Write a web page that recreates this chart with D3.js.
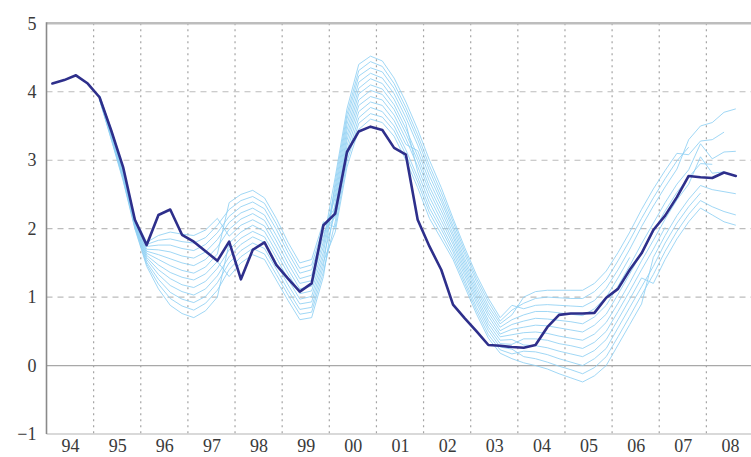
<!DOCTYPE html>
<html>
<head>
<meta charset="utf-8">
<script src="https://cdn.jsdelivr.net/npm/d3@7"></script>
<style>
  body { margin: 0; background: #fff; }
  svg { display: block; }
  svg text { font-family: "Liberation Serif", "DejaVu Serif", serif; }
</style>
</head>
<body>
<svg id="chart" width="751" height="457"></svg>
<script>
// Year labels along the bottom (one per calendar year, 1994-2008)
const yearLabels = ["94","95","96","97","98","99","00","01","02","03","04","05","06","07","08"];
const firstYear = 1994;
const yTicks = [-1, 0, 1, 2, 3, 4, 5];
const dashedLevels = [1, 2, 3, 4];

// Quarterly series, starting 1994 Q1
const policyRate = [
  4.12, 4.17, 4.24, 4.12,
  3.92, 3.43, 2.90, 2.13,
  1.76, 2.20, 2.28, 1.91,
  1.81, 1.67, 1.53, 1.81,
  1.26, 1.69, 1.80, 1.47,
  1.27, 1.08, 1.20, 2.05,
  2.22, 3.12, 3.42, 3.49,
  3.44, 3.18, 3.08, 2.13,
  1.74, 1.40, 0.89, 0.69,
  0.50, 0.30, 0.29, 0.27,
  0.26, 0.30, 0.56, 0.74,
  0.76, 0.76, 0.77, 0.99,
  1.12, 1.40, 1.64, 1.98,
  2.19, 2.46, 2.77, 2.75,
  2.74, 2.82, 2.77
];

// Vintage paths, each quarterly from 1995 Q1 up to its own last quarter
const vintageStartYear = 1995;
const vintage01 = [3.91,3.36,2.79,2.06,1.61,1.47,1.36,1.29,1.25,1.34,1.52,
  1.30,1.50,1.62,1.55,1.25,0.95,0.67,0.70,1.30,
  2.39,3.36,3.97,4.10,4.04,3.81,3.46,3.06,2.61,2.26,1.88,1.46,1.06,0.72,0.46,0.53,
  0.56,0.59,0.58,0.55,0.52,0.49,0.59,0.75,1.04,1.34,1.65,1.95,2.26,2.53,2.75,2.95,2.94];
const vintage02 = [3.93,3.42,2.86,2.12,1.74,1.76,1.76,1.71,1.68,1.77,1.94,2.18,2.32,2.39,2.29,1.99,1.65,1.35,1.40,1.95,
  2.17,3.13,3.71,3.85,3.80,3.58,3.23,
  3.14,2.69,2.33,1.93,1.51,1.11,0.77,0.51,0.60,
  0.65,0.69,0.68,0.66,0.64,0.61,0.71,0.88,1.16,1.46,1.78,2.08,2.38,2.65,2.86,3.24,3.02,3.12,3.13];
const vintage03 = [3.89,3.33,2.74,2.03,1.51,1.26,1.07,0.97,0.92,1.01,1.21,1.50,1.68,1.79,1.71,1.41,1.10,0.82,0.85,1.45,
  2.68,3.67,4.31,4.44,4.37,4.12,3.77,3.37,2.92,2.53,2.10,1.67,1.27,0.93,0.65,0.81,
  0.91,0.98,1.00,0.99,0.98,0.98,1.08,1.25,1.53,1.83,2.15,2.45,2.73,2.99,3.19];
const vintage04 = [3.95,3.45,2.90,2.15,1.80,1.90,1.95,1.92,1.90,1.98,2.15,
  1.89,2.05,2.13,2.04,1.74,1.41,1.12,1.16,1.74,
  2.60,3.60,4.23,4.35,4.29,4.05,3.70,3.30,2.85,2.46,2.04,1.62,1.22,0.87,0.61,0.74,
  1.00,1.08,1.10,1.10,1.10,1.10,1.20,1.38,1.65,1.95,2.28,2.58,2.85,3.10,3.08,3.28,3.30,3.41];
const vintage05 = [3.88,3.30,2.70,2.00,1.45,1.12,0.88,0.76,0.70,0.80,1.00,
  1.79,1.95,2.05,1.96,1.66,1.34,1.05,1.09,1.66,
  2.53,3.52,4.14,4.27,4.20,3.97,3.62,3.22,2.77,2.40,1.99,1.56,1.16,0.82,0.56,0.67,
  0.74,0.79,0.79,0.77,0.75,0.73,0.83,1.00,1.28,1.58];
const vintage06 = [3.92,3.39,2.83,2.09,1.67,1.62,1.56,1.50,1.46,1.55,1.73,1.99,2.14,2.22,2.12,1.82,1.49,1.20,1.24,1.81,
  2.75,3.75,4.40,4.52,4.45,4.20,3.85,3.45,3.00,2.60,2.15,1.72,1.32,0.98,0.70,0.88,
  0.83,0.88,0.89,0.88,0.87,0.86,0.95,1.13,1.40,1.70,2.03,2.33,2.61,2.87,3.30,3.50,3.55,3.70,3.75];
const vintage07 = [3.90,3.34,2.75,2.04,1.55,1.33,1.17,1.08,1.03,1.12,1.31,1.59,1.77,1.88,1.80,1.50,1.18,0.90,0.93,1.52,
  1.95,2.90,3.45,3.60,3.55,3.35,3.00,2.60,2.15,1.85,1.55,1.15,0.75,0.40,0.18,0.10,
  0.04,0.00,-0.05,-0.12,-0.18,-0.24,-0.15,0.00,0.30,0.60,0.90,1.58,1.90,2.19,2.43,2.63,2.57,2.54,2.51];
const vintage08 = [3.94,3.44,2.88,2.14,1.77,1.83,1.85,1.81,1.79,1.87,2.05,2.28,2.41,2.47,2.37,2.07,1.72,1.42,1.47,2.03,
  2.31,3.29,3.88,4.02,3.96,3.74,3.39,2.99,2.54,2.19,1.82,1.41,1.01,0.66,0.42,0.45,
  0.48,0.49,0.47,0.43,0.40,0.37,0.46,0.63,0.91,1.21,1.53,1.83,2.14,2.42,2.65,3.05,2.81,2.83];
const vintage09 = [3.91,3.38,2.81,2.08,1.64,1.55,1.46,1.39,1.35,1.44,1.63,
  2.38,2.50,2.56,2.45,2.15,1.80,1.50,1.55,2.10,
  2.02,2.98,3.54,3.68,3.63,3.43,3.08,2.68,2.23,1.92,1.60,1.20,0.80,0.45,0.23,0.17,
  0.21,0.20,0.16,0.10,0.05,0.00,0.10,0.25,0.55,0.85,1.15,1.45,1.79,2.08,2.32,2.52];
const vintage10 = [3.89,3.31,2.72,2.01,1.48,1.19,0.98,0.87,0.81,0.91,1.10,1.40,1.59,1.71,1.63,1.33,1.03,0.75,0.78,1.37,
  2.10,3.05,3.62,3.77,3.71,3.50,3.15,2.75,2.30,1.99,1.66,1.25,0.85,0.51,0.27,0.24,
  0.13,0.10,0.05,-0.01,-0.06,-0.12,-0.03,0.13,0.42,0.72,1.03,1.33,1.67,1.96,2.21,2.41,2.32,2.25,2.20];
const vintage11 = [3.93,3.40,2.85,2.10,1.70,1.69,1.66,1.60,1.57,1.66,1.84,2.09,2.23,2.30,2.20,1.90,1.57,1.27,1.32,1.88,
  2.46,3.44,4.05,4.19,4.12,3.89,3.54,
  2.83,2.38,2.05,1.71,1.31,0.91,0.56,0.32,0.31,
  0.39,0.39,0.37,0.32,0.29,0.25,0.34,0.50,0.79,1.09,1.40,1.70,2.02];
const vintage12 = [3.90,3.35,2.77,2.05,1.58,1.40,1.27,1.18,1.14,1.23,1.42,1.69,1.86,1.96,1.88,1.58,1.26,0.97,1.01,1.59,
  2.24,3.21,3.80,3.93,3.88,3.66,3.31,2.91,2.46,2.12,1.77,1.36,0.96,0.61,0.37,0.38,
  0.30,0.29,0.26,0.21,0.17,0.13,0.22,0.38,0.67,0.97,1.28,1.20,1.55,1.85,2.10,2.30,2.20,2.10,2.05];

const vintages = [vintage01, vintage02, vintage03, vintage04, vintage05, vintage06,
                  vintage07, vintage08, vintage09, vintage10, vintage11, vintage12];

// ---- layout ----
const svg = d3.select("#chart");
const W = 751;
const labelFont = '"Liberation Serif", "DejaVu Serif", serif';
const x = d3.scaleLinear().domain([firstYear, firstYear + yearLabels.length]).range([46.5, 753.5]);
const y = d3.scaleLinear().domain([-1, 5]).range([434, 23.3]);

// quarter index -> mid-quarter position in decimal years
const toPoints = (vals, startYear) => vals.map((v, i) => [startYear + (i + 0.5) / 4, v]);
const line = d3.line().x(d => x(d[0])).y(d => y(d[1]));

// vertical dotted grid at year boundaries
const grid = svg.append("g");
grid.selectAll("line.vgrid")
  .data(d3.range(firstYear + 1, firstYear + yearLabels.length))
  .join("line")
  .attr("class", "vgrid")
  .attr("x1", d => x(d)).attr("x2", d => x(d))
  .attr("y1", y(5)).attr("y2", y(-1))
  .attr("stroke", "#a4a4a4")
  .attr("stroke-width", 1.2)
  .attr("stroke-dasharray", "2,4");

// horizontal dashed grid
grid.selectAll("line.hgrid")
  .data(dashedLevels)
  .join("line")
  .attr("class", "hgrid")
  .attr("x1", x.range()[0]).attr("x2", W)
  .attr("y1", d => y(d)).attr("y2", d => y(d))
  .attr("stroke", "#bcbcbc")
  .attr("stroke-width", 1.1)
  .attr("stroke-dasharray", "6,5");

// zero line, bottom and top frame lines
grid.append("line")
  .attr("x1", x.range()[0]).attr("x2", W)
  .attr("y1", y(0)).attr("y2", y(0))
  .attr("stroke", "#a8a8a8").attr("stroke-width", 1.2);
grid.append("line")
  .attr("x1", x.range()[0]).attr("x2", W)
  .attr("y1", y(-1)).attr("y2", y(-1))
  .attr("stroke", "#b4b4b4").attr("stroke-width", 1.2);
grid.append("line")
  .attr("x1", x.range()[0]).attr("x2", W)
  .attr("y1", y(5)).attr("y2", y(5))
  .attr("stroke", "#bdbdbd").attr("stroke-width", 2.4);

// light vintage paths
svg.append("g")
  .selectAll("path")
  .data(vintages)
  .join("path")
  .attr("d", d => line(toPoints(d, vintageStartYear)))
  .attr("fill", "none")
  .attr("stroke", "#8fd0f3")
  .attr("stroke-opacity", 0.85)
  .attr("stroke-width", 1)
  .attr("stroke-linejoin", "round");

// main series
svg.append("path")
  .attr("d", line(toPoints(policyRate, firstYear)))
  .attr("fill", "none")
  .attr("stroke", "#2e2f8b")
  .attr("stroke-width", 2.6)
  .attr("stroke-linejoin", "round")
  .attr("stroke-linecap", "round");

// left axis line
svg.append("line")
  .attr("x1", x.range()[0]).attr("x2", x.range()[0])
  .attr("y1", y(5) - 1).attr("y2", y(-1))
  .attr("stroke", "#8a8a8a").attr("stroke-width", 1.6);

// y-axis labels
const yAxis = d3.axisLeft(y)
  .tickValues(yTicks)
  .tickSize(0)
  .tickPadding(10)
  .tickFormat(d => d < 0 ? "\u2212" + Math.abs(d) : String(d));
const gy = svg.append("g")
  .attr("transform", `translate(${x.range()[0]},0)`)
  .call(yAxis)
  .attr("font-family", labelFont);
gy.select(".domain").remove();
gy.selectAll("text")
  .attr("font-size", 18)
  .attr("fill", "#3a3a3a")
  .attr("font-family", labelFont);

// x-axis labels centred in each year
const xAxis = d3.axisBottom(x)
  .tickValues(yearLabels.map((_, i) => firstYear + i + 0.5))
  .tickSize(0)
  .tickPadding(5)
  .tickFormat((d, i) => yearLabels[i]);
const gx = svg.append("g")
  .attr("transform", `translate(0,${y(-1)})`)
  .call(xAxis)
  .attr("font-family", labelFont);
gx.select(".domain").remove();
gx.selectAll("text")
  .attr("font-size", 18)
  .attr("fill", "#3a3a3a")
  .attr("font-family", labelFont);
</script>
</body>
</html>
